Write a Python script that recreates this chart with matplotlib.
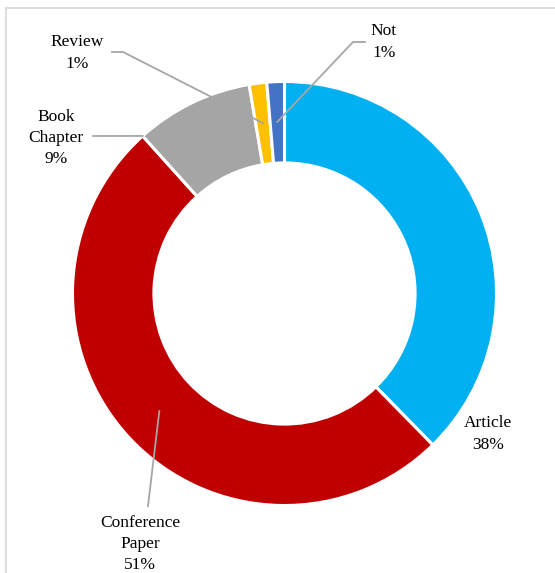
import matplotlib.pyplot as plt
import numpy as np
from matplotlib.lines import Line2D

plt.rcParams['font.family'] = ['Liberation Serif', 'DejaVu Serif']

# document types
categories = ['Article', 'Conference\nPaper', 'Book\nChapter', 'Review', 'Not']
counts = [113, 152, 27, 4, 4]
colors = ['#00B0F0', '#C00000', '#A5A5A5', '#FFC000', '#4472C4']

W, H = 555, 573
CX, CY, R = 284.5, 293.5, 212.0


def px(x, y):
    # pixel position (from top-left) -> data units of the donut
    return (x - CX) / R, (CY - y) / R


fig = plt.figure(figsize=(W / 100, H / 100), dpi=100)
ax = fig.add_axes([0, 0, 1, 1])

# chart-area frame (only the top and left edges fall inside the image)
fig.add_artist(Line2D([5.5 / W, 5.5 / W], [0, 1 - 8 / H], transform=fig.transFigure,
                      color='#D9D9D9', lw=1.2))
fig.add_artist(Line2D([5.5 / W, 1], [1 - 8 / H, 1 - 8 / H], transform=fig.transFigure,
                      color='#D9D9D9', lw=1.2))

wedges, _ = ax.pie(counts, colors=colors, startangle=90, counterclock=False,
                   radius=1.0, center=(0, 0),
                   wedgeprops=dict(width=0.384, edgecolor='white', linewidth=2.2))

# pie() resets the limits, so set them afterwards
ax.set_xlim((0 - CX) / R, (W - CX) / R)
ax.set_ylim((CY - H) / R, CY / R)
ax.set_aspect('equal')
ax.axis('off')

total = sum(counts)
labels = [f'{c}\n{round(v / total * 100)}%' for c, v in zip(categories, counts)]

# label positions (pixels) and leader line elbows
text_pos = [(488, 434), (140, 544), (56, 138), (77, 53), (384, 42)]
lead_color = '#A6A6A6'


def ring_point(w, r, ang=None):
    a = np.deg2rad((w.theta1 + w.theta2) / 2 if ang is None else ang)
    return r * np.cos(a), r * np.sin(a)


for lab, (tx, ty) in zip(labels, text_pos):
    x, y = px(tx, ty)
    ax.text(x, y, lab, ha='center', va='center', fontsize=12.5,
            linespacing=1.42, color='black')

# Conference Paper leader
x0, y0 = px(148, 506)
x1, y1 = ring_point(wedges[1], 0.81)
ax.plot([x0, x1], [y0, y1], color=lead_color, lw=1.3)

# Book Chapter leader
x0, y0 = px(93, 136)
x1, y1 = ring_point(wedges[2], 1.0, wedges[2].theta2)
ax.plot([x0, x1], [y0, y1], color=lead_color, lw=1.3)

# Review leader
xa, ya = px(112, 52)
xb, yb = px(123, 52)
x1, y1 = ring_point(wedges[3], 0.81)
ax.plot([xa, xb, x1], [ya, yb, y1], color=lead_color, lw=1.3)

# Not leader
xa, ya = px(365, 42)
xb, yb = px(353, 42)
x1, y1 = ring_point(wedges[4], 0.81)
ax.plot([xa, xb, x1], [ya, yb, y1], color=lead_color, lw=1.3)

fig.savefig('out.png', dpi=100, facecolor='white')
